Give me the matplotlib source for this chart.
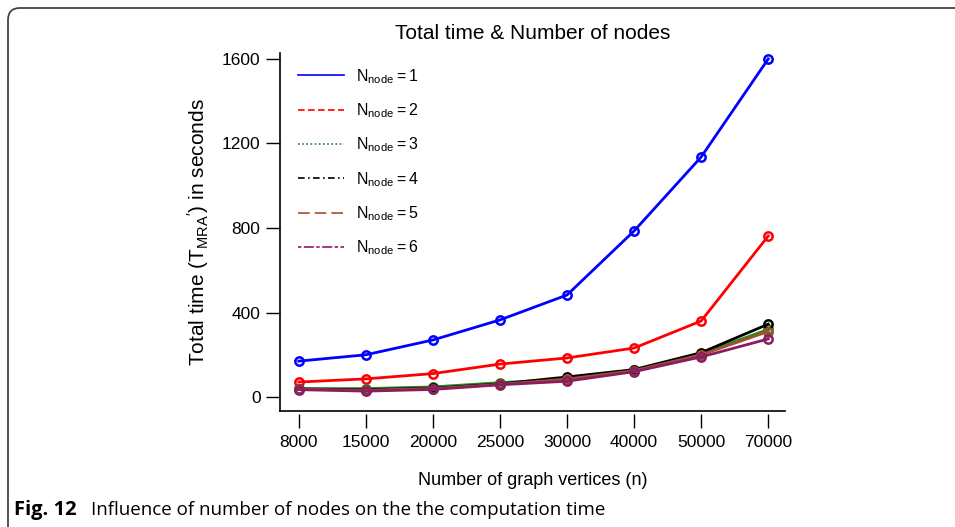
import matplotlib
matplotlib.use("Agg")
import matplotlib.pyplot as plt
from matplotlib.lines import Line2D
from matplotlib.patches import FancyBboxPatch

vertices = ["8000", "15000", "20000", "25000", "30000", "40000", "50000", "70000"]

t_node1 = [170, 200, 270, 365, 483, 786, 1136, 1600]
t_node2 = [71, 86, 111, 156, 185, 232, 360, 762]
t_node3 = [40, 40, 48, 68, 85, 128, 205, 320]
t_node4 = [38, 35, 42, 62, 95, 130, 210, 345]
t_node5 = [37, 32, 40, 60, 85, 125, 200, 310]
t_node6 = [35, 28, 36, 58, 75, 120, 190, 275]

series = [t_node1, t_node2, t_node3, t_node4, t_node5, t_node6]
labels = [r"$\mathregular{N_{node}=%d}$" % (i + 1) for i in range(6)]
colors = ["#0000ff", "#ff0000", "#228b22", "#000000", "#a0522d", "#8b1c62"]
legend_styles = ["-", (0, (4, 2)), (0, (1, 1.5)), (0, (4, 2, 1, 2)), (0, (7, 3)), (0, (2, 1.5, 6, 1.5))]

plt.rcParams["font.family"] = ["Liberation Sans", "DejaVu Sans"]
plt.rcParams["mathtext.fontset"] = "custom"
plt.rcParams["mathtext.rm"] = "Liberation Sans"

fig = plt.figure(figsize=(9.55, 5.27), dpi=100)
ax = fig.add_axes([280 / 955, 116 / 527, 505 / 955, 358 / 527])

x = list(range(len(vertices)))
for vals, c in zip(series, colors):
    ax.plot(x, vals, color=c, lw=2, marker="o", ms=6, mfc="none", mew=1.8)

ax.set_xlim(-0.28, 7.25)
ax.set_ylim(-66, 1628)
ax.set_yticks([0, 400, 800, 1200, 1600])
ax.set_xticks(x)
ax.set_xticklabels(vertices)

ax.spines["top"].set_visible(False)
ax.spines["right"].set_visible(False)
ax.spines["bottom"].set_visible(False)
ax.spines["left"].set_linewidth(1.2)
ax.tick_params(axis="y", direction="out", length=10, width=1, labelsize=12.5, pad=4)
ax.tick_params(axis="x", direction="out", length=10, width=1, labelsize=12.5, pad=5)
# R-style L box: bottom line, with the x ticks hanging just below it
ax.plot([-0.28, 7.25], [-66, -66], color="black", lw=1.2, clip_on=False)
ax.spines["bottom"].set_position(("outward", 2))

ax.set_title("Total time & Number of nodes", fontsize=15, pad=10)
ax.set_xlabel("Number of graph vertices (n)", fontsize=13, labelpad=16)
ax.set_ylabel(r"Total time (T$_{\mathregular{MRA}}$$\mathregular{'}$) in seconds", fontsize=15, labelpad=8)

handles = [Line2D([], [], color=c, lw=1.2, ls=ls) for c, ls in zip(colors, legend_styles)]
fig.legend(handles, labels, loc="upper left", bbox_to_anchor=(298 / 955, 1 - 67 / 527), frameon=False,
           fontsize=11.5, handlelength=2.9, labelspacing=0.98, handletextpad=0.7,
           borderpad=0, borderaxespad=0)

# figure frame like the journal page: rounded corner, top and left edges only
frame = FancyBboxPatch((0.08, -0.5), 10, 5.27 - 0.08 + 0.5, boxstyle="round,pad=0,rounding_size=0.12",
                       transform=fig.dpi_scale_trans, fill=False, ec="#444444", lw=1.3, clip_on=False)
fig.patches.append(frame)

fig.text(14 / 955, 1 - 510 / 527, "Fig. 12", fontsize=14.5, fontweight="bold", family=["Open Sans", "DejaVu Sans"],
         va="center", ha="left")
fig.text(91 / 955, 1 - 510 / 527, "Influence of number of nodes on the the computation time", fontsize=13.5,
         family=["Open Sans", "DejaVu Sans"], va="center", ha="left")

fig.savefig("out.png", dpi=100)
